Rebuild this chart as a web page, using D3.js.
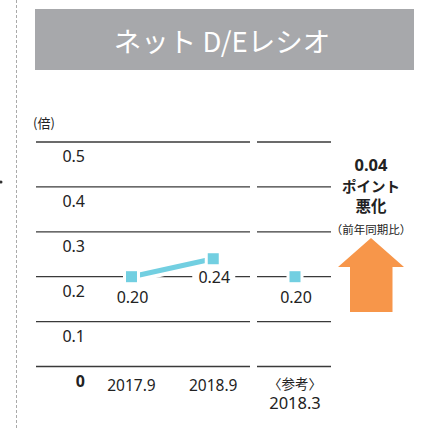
<!DOCTYPE html>
<html>
<head>
<meta charset="utf-8">
<script src="https://cdn.jsdelivr.net/npm/d3@7"></script>
<style>
  body { margin: 0; background: #fff; }
  svg { display: block; font-family: "Noto Sans", "Noto Sans CJK JP", sans-serif; }
</style>
</head>
<body>
<div id="chart"></div>
<script>
// data
const categories = ["2017.9", "2018.9"];
const values = [0.20, 0.24];
const valueLabels = ["0.20", "0.24"];
const refCategory = "2018.3";
const refValue = 0.20;
const refLabel = "0.20";
const yTicks = [0, 0.1, 0.2, 0.3, 0.4, 0.5];
const title = "ネット D/Eレシオ";
const unitLabel = "(倍)";
const noteLines = ["0.04", "ポイント", "悪化", "（前年同期比）"];

const width = 426, height = 429;
const lineColor = "#72cfe1";
const gridColor = "#3a3a3a";

const svg = d3.select("#chart").append("svg")
    .attr("width", width)
    .attr("height", height);

// dashed divider on the left + stray dot from the neighbouring chart
svg.append("line")
    .attr("x1", 16.5).attr("x2", 16.5)
    .attr("y1", 0).attr("y2", 428)
    .attr("stroke", "#aaa")
    .attr("stroke-width", 1)
    .attr("stroke-dasharray", "3,2");
svg.append("circle").attr("cx", 1).attr("cy", 182).attr("r", 1.5).attr("fill", "#333");

// title box
svg.append("rect")
    .attr("x", 35).attr("y", 9)
    .attr("width", 379).attr("height", 61)
    .attr("fill", "#a7a8ab");
svg.append("text")
    .attr("x", 222).attr("y", 52)
    .attr("text-anchor", "middle")
    .attr("fill", "#fff")
    .style("font-size", "27.5px")
    .style("font-family", "'Noto Sans CJK JP', sans-serif")
    .text(title);

svg.append("text")
    .attr("x", 33).attr("y", 128)
    .style("font-size", "13px")
    .style("font-family", "'Noto Sans CJK JP', sans-serif")
    .attr("fill", "#222")
    .text(unitLabel);

// scales
const x = d3.scalePoint()
    .domain([...categories, refCategory])
    .range([131.5, 295]);
const y = d3.scaleLinear()
    .domain([0, 0.5])
    .range([366.5, 142]);

const panels = [[36, 250], [257, 331]];

// gridlines
panels.forEach(p => {
    svg.append("g")
        .selectAll("line")
        .data(yTicks)
        .enter()
        .append("line")
        .attr("x1", p[0]).attr("x2", p[1])
        .attr("y1", d => y(d)).attr("y2", d => y(d))
        .attr("stroke", gridColor)
        .attr("stroke-width", d => d === 0 ? 1.6 : 1.3);
});

// y tick labels (under each gridline, right aligned)
svg.append("g")
    .selectAll("text")
    .data(yTicks)
    .enter()
    .append("text")
    .attr("x", 85)
    .attr("y", d => y(d) + 20)
    .attr("text-anchor", "end")
    .attr("fill", "#222")
    .style("font-size", "16px")
    .style("font-weight", d => d === 0 ? "bold" : "normal")
    .text(d => d === 0 ? "0" : d3.format(".1f")(d));

// line with white halo
const pts = categories.map((c, i) => ({ c: c, v: values[i] }));
const line = d3.line().x(d => x(d.c)).y(d => y(d.v));
svg.append("path")
    .datum(pts)
    .attr("d", line)
    .attr("fill", "none")
    .attr("stroke", "#fff")
    .attr("stroke-width", 13);
svg.append("path")
    .datum(pts)
    .attr("d", line)
    .attr("fill", "none")
    .attr("stroke", lineColor)
    .attr("stroke-width", 5);

// markers
const allPts = [...pts, { c: refCategory, v: refValue }];
const m = 11;
svg.append("g").selectAll("rect")
    .data(allPts)
    .enter()
    .append("rect")
    .attr("x", d => x(d.c) - m / 2 - 3)
    .attr("y", d => y(d.v) - m / 2 - 3)
    .attr("width", m + 6).attr("height", m + 6)
    .attr("fill", "#fff");
svg.append("g").selectAll("rect")
    .data(allPts)
    .enter()
    .append("rect")
    .attr("x", d => x(d.c) - m / 2)
    .attr("y", d => y(d.v) - m / 2)
    .attr("width", m).attr("height", m)
    .attr("fill", lineColor);

// value labels
const labelData = [
    { c: categories[0], v: values[0], t: valueLabels[0], dy: 26, bg: false },
    { c: categories[1], v: values[1], t: valueLabels[1], dy: 0, bg: true },
    { c: refCategory, v: refValue, t: refLabel, dy: 26, bg: false }
];
labelData.forEach(d => {
    // 0.24 sits on the 0.2 gridline with a white background
    const yy = d.bg ? y(0.2) + 6 : y(d.v) + d.dy;
    if (d.bg) {
        svg.append("rect")
            .attr("x", x(d.c) - 21).attr("y", y(0.2) - 3)
            .attr("width", 43).attr("height", 6)
            .attr("fill", "#fff");
    }
    svg.append("text")
        .attr("x", x(d.c) + 1)
        .attr("y", yy)
        .attr("text-anchor", "middle")
        .attr("fill", "#222")
        .style("font-size", "16px")
        .text(d.t);
});

// x labels
svg.append("g").selectAll("text")
    .data(categories)
    .enter()
    .append("text")
    .attr("x", d => x(d))
    .attr("y", 391)
    .attr("text-anchor", "middle")
    .attr("fill", "#222")
    .style("font-size", "15.5px")
    .text(d => d);
svg.append("text")
    .attr("x", x(refCategory))
    .attr("y", 389)
    .attr("text-anchor", "middle")
    .attr("fill", "#222")
    .style("font-size", "13.5px")
    .style("font-family", "'Noto Sans CJK JP', sans-serif")
    .text("〈参考〉");
svg.append("text")
    .attr("x", x(refCategory))
    .attr("y", 409)
    .attr("text-anchor", "middle")
    .attr("fill", "#222")
    .style("font-size", "16.5px")
    .text(refCategory);

// note on the right
const noteX = 371;
const noteY = [171, 192, 212, 234];
const noteSize = ["16.5px", "14.5px", "15.5px", "11.5px"];
noteLines.forEach((t, i) => {
    svg.append("text")
        .attr("x", noteX)
        .attr("y", noteY[i])
        .attr("text-anchor", "middle")
        .attr("fill", "#222")
        .style("font-size", noteSize[i])
        .style("font-weight", i < 3 ? "bold" : "normal")
        .style("font-family", i === 0 ? "'Noto Sans', sans-serif" : "'Noto Sans CJK JP', sans-serif")
        .text(t);
});

// orange up arrow
const arrow = d3.path();
arrow.moveTo(371, 238);
arrow.lineTo(404, 267);
arrow.lineTo(392.5, 267);
arrow.lineTo(392.5, 312);
arrow.lineTo(350, 312);
arrow.lineTo(350, 267);
arrow.lineTo(338, 267);
arrow.closePath();
svg.append("path")
    .attr("d", arrow.toString())
    .attr("fill", "#f7964a");
</script>
</body>
</html>
